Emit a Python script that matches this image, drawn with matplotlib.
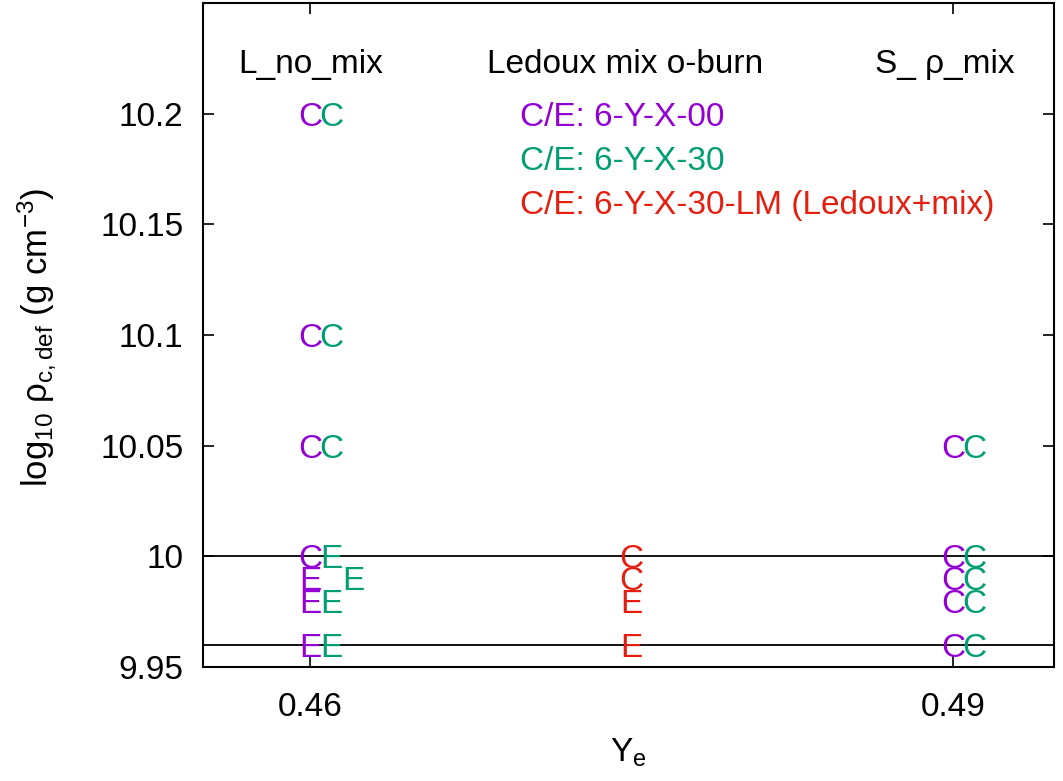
"""Central deflagration density vs Ye for the three convection setups."""

import matplotlib

matplotlib.use("Agg")

import matplotlib.pyplot as plt

plt.rcParams["font.family"] = ["Liberation Sans", "DejaVu Sans"]
plt.rcParams["mathtext.fontset"] = "custom"
plt.rcParams["mathtext.rm"] = "Liberation Sans"
plt.rcParams["mathtext.it"] = "Liberation Sans:italic"

# 6-Y-X-00
ye_00 = [0.46, 0.46, 0.46, 0.46, 0.46, 0.46, 0.46, 0.49, 0.49, 0.49, 0.49, 0.49]
rho_00 = [10.2, 10.1, 10.05, 10.0, 9.99, 9.98, 9.96, 10.05, 10.0, 9.99, 9.98, 9.96]
flag_00 = ["C", "C", "C", "C", "E", "E", "E", "C", "C", "C", "C", "C"]

# 6-Y-X-30 (shifted slightly in Ye so the letters sit side by side)
ye_30 = [0.461, 0.461, 0.461, 0.461, 0.462, 0.461, 0.461, 0.491, 0.491, 0.491, 0.491, 0.491]
rho_30 = [10.2, 10.1, 10.05, 10.0, 9.99, 9.98, 9.96, 10.05, 10.0, 9.99, 9.98, 9.96]
flag_30 = ["C", "C", "C", "E", "E", "E", "E", "C", "C", "C", "C", "C"]

# 6-Y-X-30-LM (Ledoux + mixing)
ye_lm = [0.475, 0.475, 0.475, 0.475]
rho_lm = [10.0, 9.99, 9.98, 9.96]
flag_lm = ["C", "C", "E", "E"]

group_labels = ["L_no_mix", "Ledoux mix o-burn", "S_ ρ_mix"]
group_x = [0.46, 0.4747, 0.4896]

legend_labels = ["C/E: 6-Y-X-00", "C/E: 6-Y-X-30", "C/E: 6-Y-X-30-LM (Ledoux+mix)"]
legend_y = [10.2, 10.18, 10.16]

boundary_rho = [10.0, 9.96]

colors = ["#9400d3", "#009e73", "#e51e10"]
FS = 24

fig = plt.figure(figsize=(10.63, 7.81), dpi=100)
ax = fig.add_axes([0.191, 0.146, 0.8005, 0.850])

for rho in boundary_rho:
    ax.axhline(rho, color="black", lw=1.3, zorder=1)

series = [(ye_00, rho_00, flag_00), (ye_30, rho_30, flag_30), (ye_lm, rho_lm, flag_lm)]
for (ye, rho, flag), color in zip(series, colors):
    for x, y, s in zip(ye, rho, flag):
        ax.text(x, y, s, color=color, fontsize=FS, ha="center", va="center_baseline", zorder=3)

for x, label in zip(group_x, group_labels):
    ax.text(x, 10.224, label, fontsize=FS, ha="center", va="center_baseline")

for y, label, color in zip(legend_y, legend_labels, colors):
    ax.text(0.4698, y, label, color=color, fontsize=FS, ha="left", va="center_baseline")

ax.set_xlim(0.455, 0.4947)
ax.set_ylim(9.95, 10.25)
ax.set_xticks([0.46, 0.49])
ax.set_xticklabels(["0.46", "0.49"])
ax.set_yticks([9.95, 10.0, 10.05, 10.1, 10.15, 10.2])
ax.set_yticklabels(["9.95", "10", "10.05", "10.1", "10.15", "10.2"])
ax.tick_params(direction="in", length=8, width=1.2, labelsize=FS, top=True, right=True)
ax.tick_params(axis="y", pad=14)
ax.tick_params(axis="x", pad=18)
for spine in ax.spines.values():
    spine.set_linewidth(1.5)

ax.set_xlabel(r"Y$_\mathrm{e}$", fontsize=FS, labelpad=10)
ax.set_ylabel(r"log$_{10}$ ρ$_\mathrm{c,def}$ (g cm$^{-3}$)", fontsize=25)
ax.yaxis.set_label_coords(-0.17, 0.497)

fig.savefig("out.png", dpi=100)
plt.close(fig)
